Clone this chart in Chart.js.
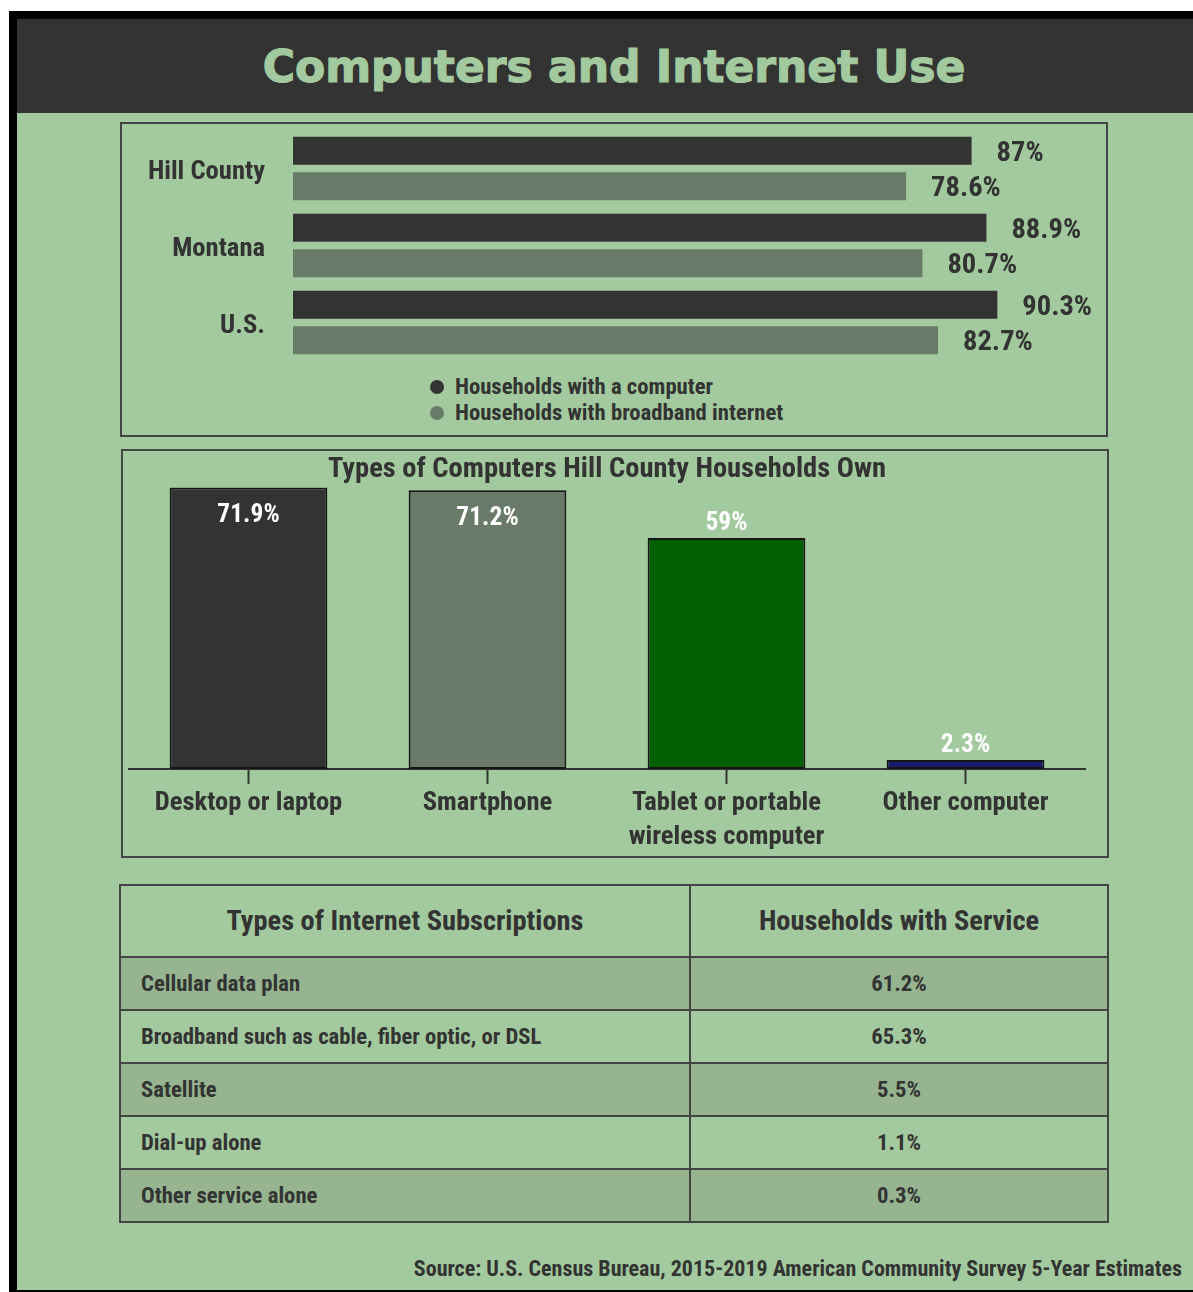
<!DOCTYPE html>
<html>
<head>
<meta charset="utf-8">
<title>Computers and Internet Use</title>
<script src="https://cdn.jsdelivr.net/npm/chart.js@4.4.1/dist/chart.umd.min.js"></script>
<style>
  body {
    margin: 0;
    width: 1193px;
    height: 1292px;
    position: relative;
    overflow: hidden;
    background: #fff;
    color: #333;
    font-family: 'Roboto Condensed', 'Liberation Sans Narrow', 'Arial Narrow', Roboto, sans-serif;
    font-weight: 700;
  }
  .abs { position: absolute; box-sizing: border-box; }
  #frame { left: 9px; top: 11px; width: 1184px; height: 1281px; background: #000; }
  #page { left: 17px; top: 19px; width: 1176px; height: 1271px; background: #a3c99e; }
  #header { left: 17px; top: 19px; width: 1176px; height: 94px; background: #333; }
  #title {
    left: 35px; top: 20px; width: 1158px; height: 94px;
    font: bold 44px 'DejaVu Sans', sans-serif;
    line-height: 94px; text-align: center; color: #a3c99e;
    -webkit-text-stroke: 1.2px #a3c99e;
  }
  .panel { border: 2px solid #444; }
  #panel1 { left: 120px; top: 122px; width: 988px; height: 315px; }
  #panel2 { left: 121px; top: 449px; width: 988px; height: 409px; }
  #chart1 { left: 122px; top: 124px; }
  #chart2 { left: 123px; top: 451px; }
  #legend { left: 430px; top: 374px; font-size: 22.7px; line-height: 26px; }
  #legend div { display: flex; align-items: center; }
  #legend span.dot { width: 14px; height: 14px; border-radius: 50%; margin-right: 11px; }
  #subs { left: 119px; top: 884px; width: 990px; border-collapse: collapse; }
  #subs th, #subs td { border: 2px solid #444; padding: 0; }
  #subs th { height: 70px; font-size: 28.4px; line-height: 30px; text-align: center; }
  #subs td { height: 51px; font-size: 22.7px; }
  #subs td.name { padding-left: 20px; width: 548px; }
  #subs td.val { text-align: center; }
  #subs tr.shade td { background: #95b48f; }
  #source { right: 11px; top: 1256px; font-size: 22px; }
</style>
</head>
<body>
<div id="frame" class="abs"></div>
<div id="page" class="abs"></div>
<div id="header" class="abs"></div>
<div id="title" class="abs">Computers and Internet Use</div>

<div id="panel1" class="abs panel"></div>
<canvas id="chart1" class="abs" width="984" height="245"></canvas>
<div id="legend" class="abs"></div>

<div id="panel2" class="abs panel"></div>
<canvas id="chart2" class="abs" width="984" height="405"></canvas>

<table id="subs" class="abs"></table>
<div id="source" class="abs">Source: U.S. Census Bureau, 2015-2019 American Community Survey 5-Year Estimates</div>

<script>
// Computer and broadband ownership by area
const regions = ['Hill County', 'Montana', 'U.S.'];
const withComputer = [87, 88.9, 90.3];
const withBroadband = [78.6, 80.7, 82.7];
const seriesNames = ['Households with a computer', 'Households with broadband internet'];

// Types of computers in Hill County households
const deviceTypes = [['Desktop or laptop'], ['Smartphone'], ['Tablet or portable', 'wireless computer'], ['Other computer']];
const deviceShares = [71.9, 71.2, 59, 2.3];

// Internet subscription table
const subscriptionHeaders = ['Types of Internet Subscriptions', 'Households with Service'];
const subscriptionTypes = ['Cellular data plan', 'Broadband such as cable, fiber optic, or DSL', 'Satellite', 'Dial-up alone', 'Other service alone'];
const subscriptionShares = ['61.2%', '65.3%', '5.5%', '1.1%', '0.3%'];

const FONT = "'Roboto Condensed', 'Liberation Sans Narrow', 'Arial Narrow', Roboto, sans-serif";
const INK = '#333333';
const SAGE = '#697a68';

Chart.defaults.font.family = FONT;
Chart.defaults.font.weight = 'bold';
Chart.defaults.color = INK;

// percentage written just past the end of each horizontal bar
const endLabels = {
  id: 'endLabels',
  afterDatasetsDraw(chart, args, opts) {
    const ctx = chart.ctx;
    ctx.save();
    ctx.font = opts.font;
    ctx.fillStyle = opts.color;
    ctx.textAlign = 'left';
    ctx.textBaseline = 'middle';
    chart.data.datasets.forEach((ds, i) => {
      chart.getDatasetMeta(i).data.forEach((bar, j) => {
        ctx.fillText(ds.data[j] + '%', bar.x + opts.offset, bar.y + opts.nudge);
      });
    });
    ctx.restore();
  }
};

// percentage above a column, or tucked inside when there is no room above
const topLabels = {
  id: 'topLabels',
  afterDatasetsDraw(chart, args, opts) {
    const ctx = chart.ctx;
    const top = chart.chartArea.top;
    ctx.save();
    ctx.font = opts.font;
    ctx.fillStyle = opts.color;
    ctx.textAlign = 'center';
    ctx.textBaseline = 'middle';
    chart.data.datasets.forEach((ds, i) => {
      chart.getDatasetMeta(i).data.forEach((bar, j) => {
        let y = bar.y - opts.above;
        if (y - 12 < top) y = bar.y + opts.inside;
        ctx.fillText(ds.data[j] + '%', bar.x, y);
      });
    });
    ctx.restore();
  }
};

const areaChart = new Chart(document.getElementById('chart1'), {
  type: 'bar',
  data: {
    labels: regions,
    datasets: [
      { label: seriesNames[0], data: withComputer, backgroundColor: INK },
      { label: seriesNames[1], data: withBroadband, backgroundColor: SAGE }
    ]
  },
  options: {
    indexAxis: 'y',
    responsive: false,
    devicePixelRatio: 1,
    animation: false,
    categoryPercentage: 0.92,
    barPercentage: 0.79,
    layout: { padding: { top: 6, bottom: 8, right: 33, left: 0 } },
    scales: {
      x: { display: false, min: 0, max: 100 },
      y: {
        grid: { display: false, drawTicks: false },
        border: { display: false },
        ticks: { padding: 28, labelOffset: 4, font: { size: 26.6 }, color: INK },
        afterFit: (s) => {
          s.width = 171;
          s.paddingTop = 0;
          s.paddingBottom = 0;
        }
      }
    },
    plugins: {
      legend: { display: false },
      tooltip: { enabled: false },
      endLabels: { font: 'bold 28.5px ' + FONT, color: INK, offset: 25, nudge: 3 }
    }
  },
  plugins: [endLabels]
});

// legend for the area chart, two stacked rows
const legendBox = document.getElementById('legend');
areaChart.data.datasets.forEach((ds) => {
  const row = document.createElement('div');
  const dot = document.createElement('span');
  dot.className = 'dot';
  dot.style.background = ds.backgroundColor;
  row.appendChild(dot);
  row.appendChild(document.createTextNode(ds.label));
  legendBox.appendChild(row);
});

new Chart(document.getElementById('chart2'), {
  type: 'bar',
  data: {
    labels: deviceTypes,
    datasets: [{
      data: deviceShares,
      backgroundColor: [INK, SAGE, '#006000', '#19196e'],
      borderColor: '#151515',
      borderWidth: 2,
      borderSkipped: false
    }]
  },
  options: {
    responsive: false,
    devicePixelRatio: 1,
    animation: false,
    categoryPercentage: 1,
    barPercentage: 0.66,
    layout: { padding: { top: 2, bottom: 0, left: 6, right: 22 } },
    scales: {
      y: { display: false, min: 0, max: 72 },
      x: {
        grid: { display: true, drawOnChartArea: false, offset: false, tickLength: 15, tickWidth: 2, tickColor: INK },
        border: { display: true, color: INK, width: 2 },
        ticks: { padding: 2, font: { size: 26.6, lineHeight: 1.28 }, color: INK }
      }
    },
    plugins: {
      legend: { display: false },
      tooltip: { enabled: false },
      title: {
        display: true,
        text: 'Types of Computers Hill County Households Own',
        font: { size: 28.5 },
        color: INK,
        padding: { top: 0, bottom: 0 }
      },
      topLabels: { font: 'bold 25.5px ' + FONT, color: '#ffffff', above: 14, inside: 28 }
    }
  },
  plugins: [topLabels]
});

// subscription table
const table = document.getElementById('subs');
const head = document.createElement('tr');
subscriptionHeaders.forEach((h) => {
  const th = document.createElement('th');
  th.textContent = h;
  head.appendChild(th);
});
table.appendChild(head);
subscriptionTypes.forEach((name, i) => {
  const tr = document.createElement('tr');
  if (i % 2 === 0) tr.className = 'shade';
  const a = document.createElement('td');
  a.className = 'name';
  a.textContent = name;
  const b = document.createElement('td');
  b.className = 'val';
  b.textContent = subscriptionShares[i];
  tr.appendChild(a);
  tr.appendChild(b);
  table.appendChild(tr);
});
</script>
</body>
</html>
